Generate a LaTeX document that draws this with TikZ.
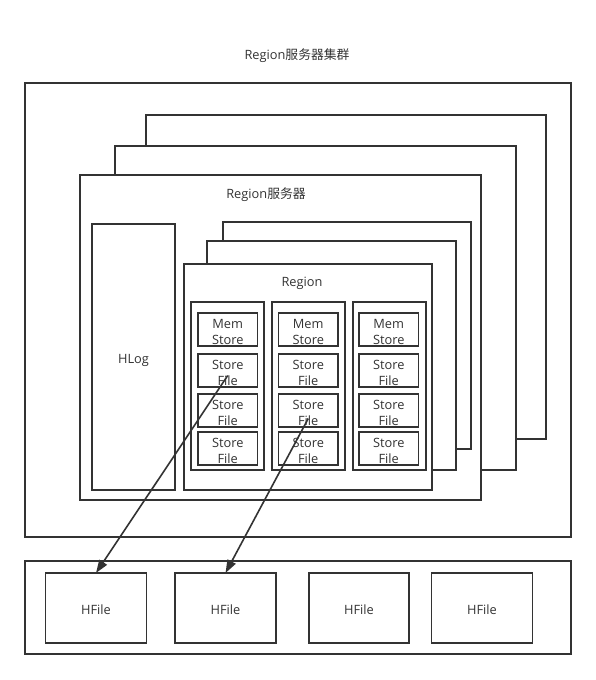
\documentclass[tikz,border=0pt]{standalone}
\usepackage{fontspec}
\setmainfont{Open Sans}
\newfontfamily\cjk{Noto Sans CJK SC}
\usetikzlibrary{arrows.meta}
\definecolor{lc}{HTML}{333333}
\tikzset{
  box/.style={draw=lc, line width=1.8pt, fill=white, inner sep=0pt, outer sep=0pt, anchor=north west},
  lbl/.style={font=\fontsize{12.8}{16}\selectfont, text=lc, align=center, inner sep=0pt},
  conn/.style={draw=lc, line width=1.6pt, -{Triangle[length=13pt,width=9pt]}}
}
\begin{document}
\begin{tikzpicture}[x=1pt,y=-1pt]
\useasboundingbox (0,0) rectangle (596,680);
% title
\node[lbl] (title) at (297,56) {Region{\cjk 服务器集群}};
% cluster box
\node[box, minimum width=546pt, minimum height=454pt] (cluster) at (25,83) {};
% stacked server boxes
\node[box, minimum width=400pt, minimum height=324pt] (srv3) at (146,115) {};
\node[box, minimum width=401pt, minimum height=324pt] (srv2) at (115,146) {};
\node[box, minimum width=401pt, minimum height=325pt] (srv1) at (80,175) {};
\node[lbl] (srvlbl) at (266,195) {Region{\cjk 服务器}};
% HLog
\node[box, minimum width=83pt, minimum height=266pt] (hlog) at (92,224) {};
\node[lbl] (hloglbl) at ([yshift=-3pt]hlog.center) {HLog};
% stacked region boxes
\node[box, minimum width=248pt, minimum height=227pt] (reg3) at (223,222) {};
\node[box, minimum width=249pt, minimum height=229pt] (reg2) at (207,241) {};
\node[box, minimum width=248pt, minimum height=226pt] (reg1) at (184,264) {};
\node[lbl] (reglbl) at (302,283) {Region};
% columns
\foreach \c/\x in {1/191, 2/272, 3/353}{
  \node[box, minimum width=73pt, minimum height=168pt] (col\c) at (\x,302) {};
}
\foreach \c/\x in {1/198, 2/278.5, 3/359}{
  \node[box, minimum width=59.5pt, minimum height=33pt] (ms\c) at (\x,313) {};
  \node[lbl] at ([yshift=-2.5pt]ms\c.center) {Mem\\Store};
  \node[box, minimum width=59.5pt, minimum height=33pt] (sfa\c) at (\x,354) {};
  \node[lbl] at ([yshift=-2.5pt]sfa\c.center) {Store\\File};
  \node[box, minimum width=59.5pt, minimum height=33pt] (sfb\c) at (\x,394) {};
  \node[lbl] at ([yshift=-2.5pt]sfb\c.center) {Store\\File};
  \node[box, minimum width=59.5pt, minimum height=33pt] (sfc\c) at (\x,432) {};
  \node[lbl] at ([yshift=-2.5pt]sfc\c.center) {Store\\File};
}
% storage
\node[box, minimum width=546pt, minimum height=93pt] (store) at (25,561) {};
\node[box, minimum width=101pt, minimum height=70pt] (hf1) at (45.5,573) {};
\node[box, minimum width=101pt, minimum height=70pt] (hf2) at (175,573) {};
\node[box, minimum width=100pt, minimum height=70pt] (hf3) at (309,573) {};
\node[box, minimum width=101pt, minimum height=70pt] (hf4) at (431.5,573) {};
\foreach \i in {1,2,3,4}{\node[lbl] at ([yshift=-1.5pt]hf\i.center) {HFile};}
% connectors
\coordinate (s1) at ([yshift=-5pt]sfa1.center);
\coordinate (s2) at ([yshift=-8pt]sfb2.center);
\draw[conn] (s1) -- (hf1.north);
\draw[conn] (s2) -- (hf2.north);
\end{tikzpicture}
\end{document}
